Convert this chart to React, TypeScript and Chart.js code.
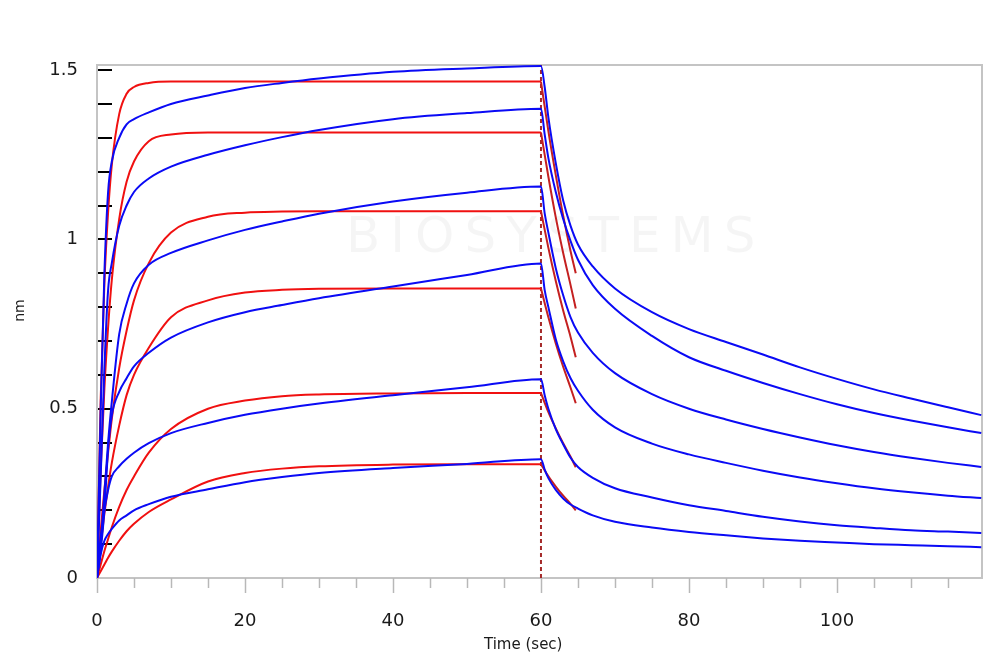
import React, { useEffect, useRef } from 'react';
import { Chart, registerables } from 'chart.js';

Chart.register(...registerables);

// ---- time grids (sec) ----
const assocTimes = [0, 0.5, 1, 1.5, 2, 3, 4, 5, 7, 10, 15, 20, 25, 30, 40, 50, 60];
const dissTimes = [60, 60.5, 61, 62, 63, 64, 65, 67, 70, 75, 80, 85, 90, 95, 100, 105, 110, 115, 119.5];
const fitDissTimes = [60, 61, 62, 63, 64, 64.7];

// ---- measured curves (blue), association ----
const measAssoc1 = [0, 0.5, 0.9, 1.14, 1.23, 1.30, 1.34, 1.355, 1.375, 1.40, 1.425, 1.447, 1.462, 1.475, 1.495, 1.505, 1.512];
const measAssoc2 = [0, 0.3, 0.62, 0.85, 0.93, 1.04, 1.10, 1.14, 1.18, 1.215, 1.25, 1.278, 1.302, 1.323, 1.355, 1.373, 1.386];
const measAssoc3 = [0, 0.1, 0.25, 0.4, 0.52, 0.72, 0.81, 0.87, 0.925, 0.96, 0.997, 1.028, 1.053, 1.076, 1.112, 1.138, 1.156];
const measAssoc4 = [0, 0.08, 0.2, 0.38, 0.48, 0.55, 0.59, 0.625, 0.665, 0.71, 0.755, 0.785, 0.806, 0.826, 0.861, 0.895, 0.929];
const measAssoc5 = [0, 0.12, 0.2, 0.26, 0.3, 0.33, 0.352, 0.37, 0.398, 0.428, 0.458, 0.482, 0.5, 0.515, 0.54, 0.563, 0.587];
const measAssoc6 = [0, 0.07, 0.11, 0.13, 0.145, 0.17, 0.185, 0.2, 0.218, 0.24, 0.262, 0.283, 0.298, 0.31, 0.325, 0.337, 0.351];

// ---- measured curves (blue), dissociation ----
const measDiss1 = [1.512, 1.45, 1.36, 1.225, 1.115, 1.04, 0.985, 0.92, 0.855, 0.785, 0.735, 0.697, 0.66, 0.622, 0.588, 0.557, 0.53, 0.504, 0.481];
const measDiss2 = [1.386, 1.31, 1.24, 1.14, 1.06, 0.995, 0.94, 0.865, 0.795, 0.715, 0.652, 0.612, 0.576, 0.543, 0.513, 0.487, 0.465, 0.445, 0.428];
const measDiss3 = [1.156, 1.077, 1.02, 0.915, 0.835, 0.77, 0.725, 0.665, 0.605, 0.543, 0.5, 0.468, 0.44, 0.415, 0.392, 0.372, 0.355, 0.34, 0.328];
const measDiss4 = [0.929, 0.85, 0.8, 0.705, 0.64, 0.59, 0.553, 0.497, 0.445, 0.397, 0.365, 0.34, 0.317, 0.297, 0.28, 0.265, 0.253, 0.243, 0.236];
const measDiss5 = [0.587, 0.54, 0.5, 0.44, 0.395, 0.355, 0.328, 0.296, 0.265, 0.238, 0.215, 0.198, 0.181, 0.167, 0.156, 0.148, 0.141, 0.137, 0.133];
const measDiss6 = [0.351, 0.32, 0.295, 0.26, 0.235, 0.217, 0.205, 0.185, 0.166, 0.149, 0.136, 0.126, 0.117, 0.11, 0.105, 0.1, 0.097, 0.094, 0.091];

// ---- fitted curves (red), association ----
const fitAssoc1 = [0, 0.53, 0.87, 1.08, 1.22, 1.37, 1.43, 1.45, 1.462, 1.466, 1.466, 1.466, 1.466, 1.466, 1.466, 1.466, 1.466];
const fitAssoc2 = [0, 0.32, 0.56, 0.74, 0.88, 1.06, 1.17, 1.23, 1.29, 1.31, 1.316, 1.316, 1.316, 1.316, 1.316, 1.316, 1.316];
const fitAssoc3 = [0, 0.14, 0.26, 0.37, 0.47, 0.62, 0.73, 0.82, 0.93, 1.02, 1.067, 1.079, 1.082, 1.083, 1.083, 1.083, 1.083];
const fitAssoc4 = [0, 0.1, 0.19, 0.27, 0.34, 0.45, 0.54, 0.6, 0.68, 0.77, 0.82, 0.843, 0.851, 0.854, 0.855, 0.855, 0.855];
const fitAssoc5 = [0, 0.04, 0.08, 0.115, 0.15, 0.21, 0.26, 0.3, 0.37, 0.44, 0.5, 0.524, 0.537, 0.542, 0.545, 0.546, 0.546];
const fitAssoc6 = [0, 0.02, 0.04, 0.06, 0.078, 0.11, 0.138, 0.16, 0.195, 0.232, 0.285, 0.31, 0.323, 0.33, 0.335, 0.336, 0.336];

// ---- fitted curves (red), dissociation ----
const fitDiss1 = [1.466, 1.32, 1.19, 1.07, 0.965, 0.9];
const fitDiss2 = [1.316, 1.185, 1.065, 0.96, 0.865, 0.796];
const fitDiss3 = [1.083, 0.975, 0.877, 0.79, 0.712, 0.652];
const fitDiss4 = [0.855, 0.77, 0.693, 0.624, 0.562, 0.516];
const fitDiss5 = [0.546, 0.49, 0.442, 0.398, 0.358, 0.327];
const fitDiss6 = [0.336, 0.3, 0.27, 0.243, 0.219, 0.2];

// ---- marker / axes ----
const dissStartTime = [60, 60];
const dissStartLevels = [0, 1.515];
const xTickValues = [0, 20, 40, 60, 80, 100];
const yTickValues = [0, 0.5, 1, 1.5];
const xMinorTicks = [0, 5, 10, 15, 20, 25, 30, 35, 40, 45, 50, 55, 60, 65, 70, 75, 80, 85, 90, 95, 100, 105, 110, 115];
const yMinorTicks = [0.1, 0.2, 0.3, 0.4, 0.5, 0.6, 0.7, 0.8, 0.9, 1.0, 1.1, 1.2, 1.3, 1.4, 1.5];
const xTitle = 'Time (sec)';
const yTitle = 'nm';
const watermark = 'BIOSYSTEMS';

const measuredAssoc = [measAssoc1, measAssoc2, measAssoc3, measAssoc4, measAssoc5, measAssoc6];
const measuredDiss = [measDiss1, measDiss2, measDiss3, measDiss4, measDiss5, measDiss6];
const fittedAssoc = [fitAssoc1, fitAssoc2, fitAssoc3, fitAssoc4, fitAssoc5, fitAssoc6];
const fittedDiss = [fitDiss1, fitDiss2, fitDiss3, fitDiss4, fitDiss5, fitDiss6];

const BLUE = '#0a0af5';
const RED = '#f01010';

function pts(times: number[], vals: number[]) {
  return times.map((t, i) => ({ x: t, y: vals[i] }));
}

const decorPlugin = {
  id: 'decor',
  beforeDatasetsDraw(chart: any) {
    const { ctx, chartArea: a, scales } = chart;
    const x = scales.x;
    const y = scales.y;
    ctx.save();
    // faint watermark
    ctx.fillStyle = 'rgba(0,0,0,0.04)';
    ctx.font = '50px "DejaVu Sans"';
    (ctx as any).letterSpacing = '10px';
    ctx.textAlign = 'center';
    ctx.textBaseline = 'middle';
    ctx.fillText(watermark, x.getPixelForValue(62), y.getPixelForValue(1.0));
    (ctx as any).letterSpacing = '0px';
    // frame
    ctx.strokeStyle = '#c4c4c4';
    ctx.lineWidth = 2;
    ctx.strokeRect(a.left, a.top, a.right - a.left, a.bottom - a.top);
    // x ticks below axis
    ctx.strokeStyle = '#b8b8b8';
    ctx.lineWidth = 1.5;
    xMinorTicks.forEach((v) => {
      const px = Math.round(x.getPixelForValue(v)) + 0.5;
      const len = v % 20 === 0 ? 15 : 10;
      ctx.beginPath();
      ctx.moveTo(px, a.bottom);
      ctx.lineTo(px, a.bottom + len);
      ctx.stroke();
    });
    // y ticks inside plot
    ctx.strokeStyle = '#000';
    ctx.lineWidth = 2;
    yMinorTicks.forEach((v) => {
      const py = Math.round(y.getPixelForValue(v));
      ctx.beginPath();
      ctx.moveTo(a.left + 1, py);
      ctx.lineTo(a.left + 15, py);
      ctx.stroke();
    });
    // axis titles
    ctx.fillStyle = '#1a1a1a';
    ctx.textAlign = 'center';
    ctx.textBaseline = 'middle';
    ctx.font = '15px "DejaVu Sans"';
    ctx.fillText(xTitle, x.getPixelForValue(57.6), 645);
    ctx.save();
    ctx.translate(20, y.getPixelForValue(0.79));
    ctx.rotate(-Math.PI / 2);
    ctx.font = '14px "DejaVu Sans"';
    ctx.fillText(yTitle, 0, 0);
    ctx.restore();
    ctx.restore();
  },
};

export default function App() {
  const ref = useRef<HTMLCanvasElement | null>(null);
  useEffect(() => {
    if (!ref.current) return;
    const datasets: any[] = [];
    measuredAssoc.forEach((arr, i) => {
      datasets.push({
        data: pts(assocTimes, arr).concat(pts(dissTimes, measuredDiss[i]).slice(1)),
        borderColor: BLUE,
        borderWidth: 2,
        pointRadius: 0,
        cubicInterpolationMode: 'monotone',
        fill: false,
      });
    });
    fittedAssoc.forEach((arr) => {
      datasets.push({
        data: pts(assocTimes, arr),
        borderColor: RED,
        borderWidth: 2,
        pointRadius: 0,
        cubicInterpolationMode: 'monotone',
        fill: false,
      });
    });
    fittedDiss.forEach((arr) => {
      datasets.push({
        data: pts(fitDissTimes, arr),
        borderColor: '#c42020',
        borderWidth: 2,
        pointRadius: 0,
        cubicInterpolationMode: 'monotone',
        fill: false,
      });
    });
    datasets.push({
      data: pts(dissStartTime, dissStartLevels),
      borderColor: '#a52a2a',
      borderWidth: 2,
      borderDash: [4, 3],
      pointRadius: 0,
      fill: false,
    });

    const chart = new Chart(ref.current, {
      type: 'line',
      data: { datasets },
      plugins: [decorPlugin],
      options: {
        animation: false,
        responsive: false,
        maintainAspectRatio: false,
        layout: { padding: { top: 65, right: 18, left: 0, bottom: 0 } },
        plugins: { legend: { display: false }, tooltip: { enabled: false } },
        scales: {
          x: {
            type: 'linear',
            min: 0,
            max: 119.6,
            border: { display: false },
            grid: { display: false, drawTicks: false },
            afterBuildTicks: (s: any) => { s.ticks = xTickValues.map((v) => ({ value: v })); },
            afterFit: (s: any) => { s.height = 91; },
            ticks: {
              padding: 33,
              color: '#1a1a1a',
              font: { family: '"DejaVu Sans"', size: 18 },
              maxRotation: 0,
              autoSkip: false,
            },
            title: { display: false },
          },
          y: {
            type: 'linear',
            min: 0,
            max: 1.515,
            border: { display: false },
            grid: { display: false, drawTicks: false },
            afterBuildTicks: (s: any) => { s.ticks = yTickValues.map((v) => ({ value: v })); },
            afterFit: (s: any) => { s.width = 97; },
            ticks: {
              padding: 19,
              color: '#1a1a1a',
              font: { family: '"DejaVu Sans"', size: 18 },
              callback: (v: any) => String(v),
            },
            title: { display: false },
          },
        },
      },
    });
    return () => chart.destroy();
  }, []);

  return (
    <div style={{ position: 'fixed', left: 0, top: 0, width: 1000, height: 669, background: '#fff' }}>
      <canvas ref={ref} width={1000} height={669} style={{ display: 'block' }} />
    </div>
  );
}
